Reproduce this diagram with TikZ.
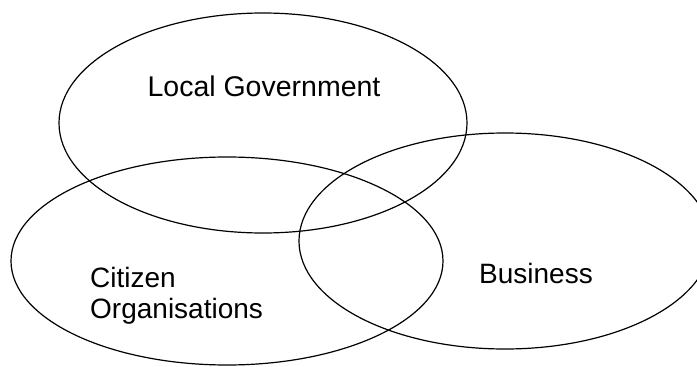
\documentclass[tikz,border=0pt]{standalone}
\usepackage{fontspec}
\setmainfont{Liberation Sans}
\usetikzlibrary{shapes.geometric}
\tikzset{
  x=1pt, y=-1pt,
  set/.style = {ellipse, draw=black, line width=1.2pt, inner sep=0pt},
  setlabel/.style = {inner sep=0pt, font=\fontsize{28}{31}\selectfont}
}

\begin{document}
\begin{tikzpicture}
\useasboundingbox (0,0) rectangle (697,367);
\clip (0,0) rectangle (697,367);
% the three overlapping sets
\node [set, minimum width=408pt, minimum height=220pt] (gov) at (263,123) {};
\node [set, minimum width=432pt, minimum height=208pt] (cit) at (227,261) {};
\node [set, minimum width=412pt, minimum height=216pt] (bus) at (505,241) {};
% labels
\node [setlabel, font=\fontsize{28.5}{31}\selectfont, anchor=base] (govlabel) at (264,96) {Local Government};
\node [setlabel, anchor=base west] (citlabel) at (90,287) {Citizen};
\node [setlabel, anchor=base west] (orglabel) at (90,318) {Organisations};
\node [setlabel, anchor=base west] (buslabel) at (479,283) {Business};
\end{tikzpicture}
\end{document}
